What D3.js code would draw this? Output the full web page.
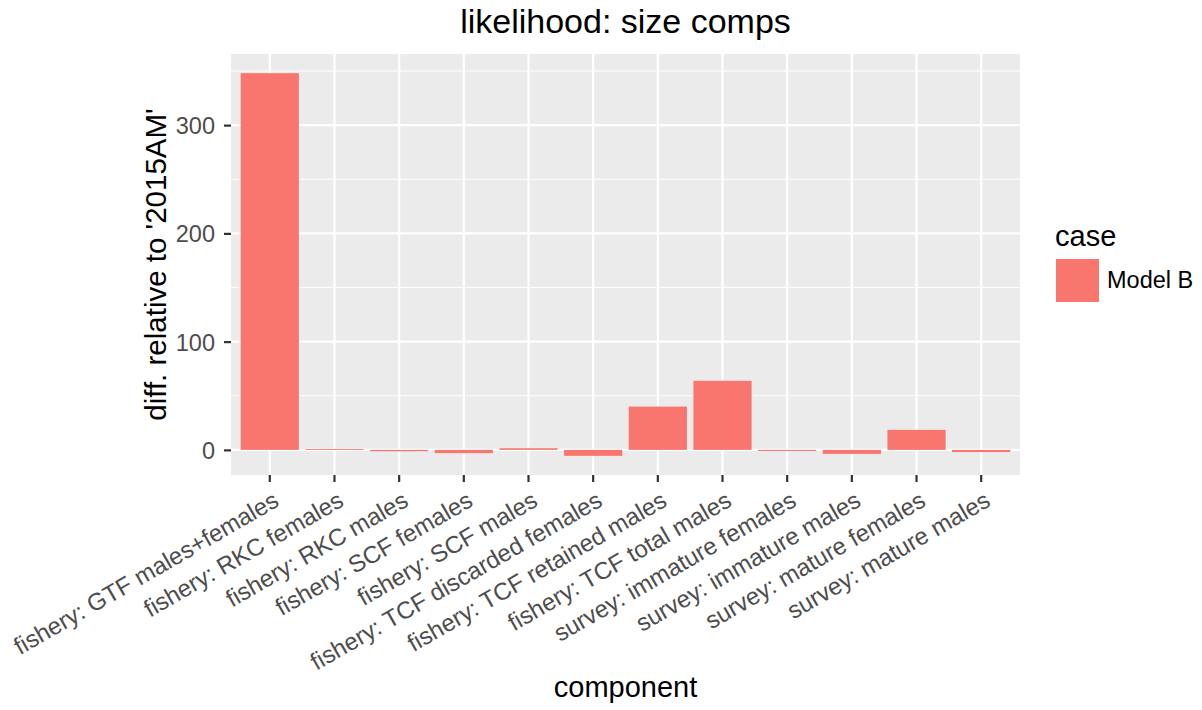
<!DOCTYPE html>
<html><head><meta charset="utf-8">
<script src="https://cdn.jsdelivr.net/npm/d3@7"></script>
<style>body{margin:0;background:#fff;} text{font-family:"Liberation Sans",Arial,Helvetica,sans-serif;}</style>
</head><body>
<svg id="chart" width="1202" height="710"></svg>
<script>
const categories = ["fishery: GTF males+females","fishery: RKC females","fishery: RKC males","fishery: SCF females","fishery: SCF males","fishery: TCF discarded females","fishery: TCF retained males","fishery: TCF total males","survey: immature females","survey: immature males","survey: mature females","survey: mature males"];
const values = [348, 0.8, -1.2, -3, 1.5, -5.5, 40, 63.8, -1, -3.7, 18.5, -2];
const yTicks = [0, 100, 200, 300];
const yMinor = [50, 150, 250, 350];
const seriesName = "Model B";

const svg = d3.select("#chart");
const P = {l:231, r:1020, t:54, b:475};
const x = d3.scaleBand().domain(categories).range([P.l, P.r]).paddingInner(0.1).paddingOuter(0.15);
const y = d3.scaleLinear().domain([-23.2, 365.7]).range([P.b, P.t]);

svg.append("rect").attr("x",P.l).attr("y",P.t).attr("width",P.r-P.l).attr("height",P.b-P.t).attr("fill","#EBEBEB");
svg.selectAll(".minor").data(yMinor).join("line").attr("x1",P.l).attr("x2",P.r).attr("y1",d=>y(d)).attr("y2",d=>y(d)).attr("stroke","#fff").attr("stroke-width",1.1);
svg.selectAll(".majy").data(yTicks).join("line").attr("x1",P.l).attr("x2",P.r).attr("y1",d=>y(d)).attr("y2",d=>y(d)).attr("stroke","#fff").attr("stroke-width",2.2);
svg.selectAll(".majx").data(categories).join("line").attr("y1",P.t).attr("y2",P.b).attr("x1",d=>x(d)+x.bandwidth()/2).attr("x2",d=>x(d)+x.bandwidth()/2).attr("stroke","#fff").attr("stroke-width",2.2);

svg.selectAll(".bar").data(categories).join("rect")
  .attr("x",d=>x(d)).attr("width",x.bandwidth())
  .attr("y",(d,i)=>y(Math.max(0,values[i]))).attr("height",(d,i)=>Math.abs(y(values[i])-y(0)))
  .attr("fill","#F8766D");

// y axis
const ya = svg.append("g").attr("transform",`translate(${P.l},0)`).call(d3.axisLeft(y).tickValues(yTicks).tickSize(7).tickPadding(9));
ya.select(".domain").remove();
ya.selectAll(".tick line").attr("stroke","#333").attr("stroke-width",2.2);
ya.selectAll(".tick text").attr("fill","#4D4D4D").style("font-size","23.5px").attr("dy","0.36em");

// x axis
const xa = svg.append("g").attr("transform",`translate(0,${P.b})`).call(d3.axisBottom(x).tickSize(7).tickFormat(""));
xa.select(".domain").remove();
xa.selectAll(".tick line").attr("stroke","#333").attr("stroke-width",2.2);
svg.selectAll(".xl").data(categories).join("text")
  .attr("transform",d=>`translate(${x(d)+x.bandwidth()/2+2},${P.b+15}) rotate(-30)`)
  .attr("text-anchor","end").attr("dy","0.72em")
  .attr("fill","#4D4D4D").style("font-size","24px").text(d=>d);

svg.append("text").attr("x",(P.l+P.r)/2).attr("y",33).attr("text-anchor","middle").style("font-size","34px").attr("fill","#000").text("likelihood: size comps");
svg.append("text").attr("x",(P.l+P.r)/2).attr("y",697).attr("text-anchor","middle").style("font-size","29px").attr("fill","#000").text("component");
svg.append("text").attr("transform",`translate(166,${(P.t+P.b)/2}) rotate(-90)`).attr("text-anchor","middle").style("font-size","29.5px").attr("fill","#000").text("diff. relative to '2015AM'");

// legend
svg.append("text").attr("x",1055).attr("y",246).style("font-size","29px").attr("fill","#000").text("case");
svg.append("rect").attr("x",1056).attr("y",259).attr("width",43).attr("height",43).attr("fill","#F8766D");
svg.append("text").attr("x",1107).attr("y",288).style("font-size","23.5px").attr("fill","#000").text(seriesName);
</script>
</body></html>
